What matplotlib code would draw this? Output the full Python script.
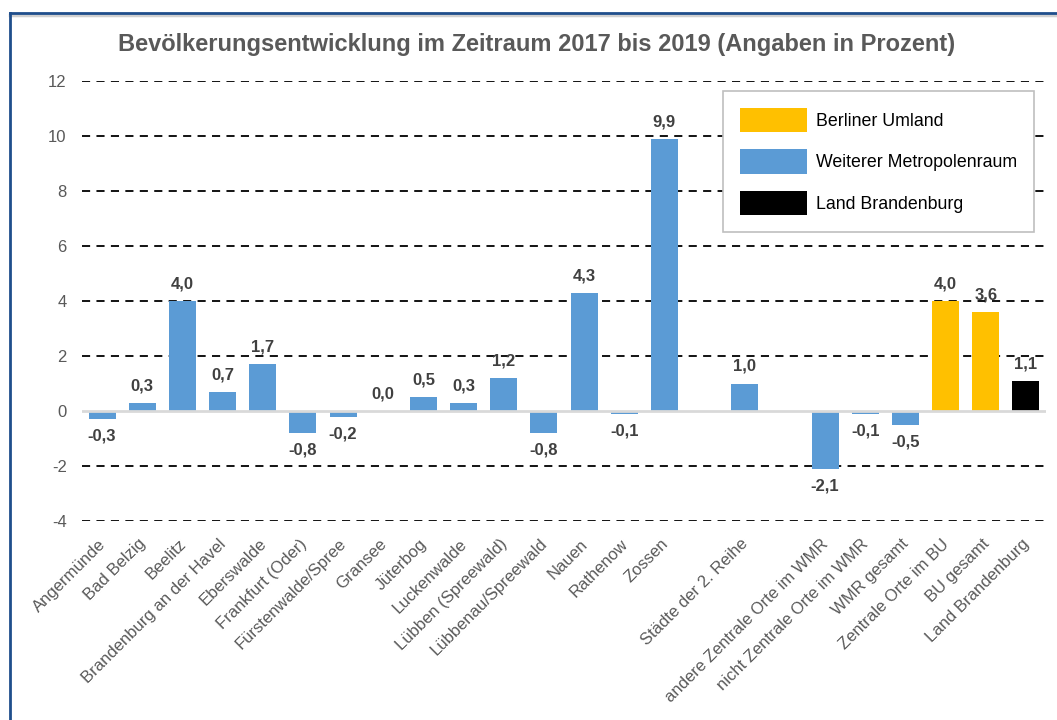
import matplotlib
matplotlib.use("Agg")
import matplotlib.pyplot as plt
from matplotlib.patches import Patch
from matplotlib.lines import Line2D
from matplotlib.transforms import ScaledTranslation

plt.rcParams["font.family"] = ["Liberation Sans", "DejaVu Sans"]

categories = ["Angermünde", "Bad Belzig", "Beelitz", "Brandenburg an der Havel",
              "Eberswalde", "Frankfurt (Oder)", "Fürstenwalde/Spree", "Gransee",
              "Jüterbog", "Luckenwalde", "Lübben (Spreewald)", "Lübbenau/Spreewald",
              "Nauen", "Rathenow", "Zossen", "", "Städte der 2. Reihe", "",
              "andere Zentrale Orte im WMR", "nicht Zentrale Orte im WMR",
              "WMR gesamt", "Zentrale Orte im BU", "BU gesamt", "Land Brandenburg"]
values = [-0.3, 0.3, 4.0, 0.7, 1.7, -0.8, -0.2, 0.0, 0.5, 0.3, 1.2, -0.8,
          4.3, -0.1, 9.9, None, 1.0, None, -2.1, -0.1, -0.5, 4.0, 3.6, 1.1]
groups = ["WMR"] * 15 + [None, "WMR", None, "WMR", "WMR", "WMR", "BU", "BU", "LB"]
legend_labels = ["Berliner Umland", "Weiterer Metropolenraum", "Land Brandenburg"]
title = "Bevölkerungsentwicklung im Zeitraum 2017 bis 2019 (Angaben in Prozent)"
yticks = [-4, -2, 0, 2, 4, 6, 8, 10, 12]

colors = {"BU": "#FFC000", "WMR": "#5B9BD5", "LB": "#000000"}

fig = plt.figure(figsize=(10.57, 7.2), dpi=100)
W, H = 1057, 720
ax = fig.add_axes([82 / W, 1 - 521 / H, (1046 - 82) / W, (521 - 81) / H])

ax.set_xlim(-0.5, len(categories) - 0.5)
ax.set_ylim(-4, 12)

# grid
for t in yticks:
    if t == 0:
        continue
    ax.axhline(t, color="black", lw=1.3, ls=(0, (4.5, 3.5)), zorder=1)

for i, (v, g) in enumerate(zip(values, groups)):
    if v is None:
        continue
    ax.bar(i, v, width=0.67, color=colors[g], zorder=2)
    lab = f"{v:.1f}".replace(".", ",")
    if v >= 0:
        ax.annotate(lab, (i, v), xytext=(0, 7), textcoords="offset points",
                    ha="center", va="bottom", fontsize=12, fontweight="bold", color="#404040", zorder=4)
    else:
        ax.annotate(lab, (i, v), xytext=(0, -7), textcoords="offset points",
                    ha="center", va="top", fontsize=12, fontweight="bold", color="#404040", zorder=4)

ax.axhline(0, color="#D9D9D9", lw=2, zorder=3)

ax.set_yticks(yticks)
ax.set_yticklabels([str(t) for t in yticks], fontsize=12, color="#595959")
ax.set_xticks(range(len(categories)))
ax.set_xticklabels(categories, rotation=45, ha="right", rotation_mode="anchor",
                   fontsize=12, color="#595959")
ax.tick_params(axis="both", length=0)
ax.tick_params(axis="y", pad=11)
ax.tick_params(axis="x", pad=11)
off = ScaledTranslation(-3 / 72, 0, fig.dpi_scale_trans)
for lbl in ax.get_xticklabels():
    lbl.set_transform(lbl.get_transform() + off)
for s in ax.spines.values():
    s.set_visible(False)

handles = [Patch(facecolor=colors["BU"]), Patch(facecolor=colors["WMR"]), Patch(facecolor=colors["LB"])]
leg = ax.legend(handles, legend_labels, loc="upper right", bbox_to_anchor=(1 - 12 / 964, 1 - 10 / 440),
                fontsize=12.8, frameon=True, fancybox=False, edgecolor="#BFBFBF", framealpha=1,
                handlelength=3.8, handleheight=1.75, labelspacing=0.95, borderpad=0.95,
                handletextpad=0.5, borderaxespad=0)
leg.get_frame().set_linewidth(1.2)
leg.set_zorder(5)

fig.text(537 / W, 1 - 45 / H, title, ha="center", va="center", fontsize=17,
         fontweight="bold", color="#595959")

# frame lines
fig.add_artist(Line2D([10 / W, 1.0], [1 - 15 / H, 1 - 15 / H], color="#D0D0D0", lw=2.5))
fig.add_artist(Line2D([10 / W, 1.0], [1 - 13 / H, 1 - 13 / H], color="#1F4E8C", lw=2))
fig.add_artist(Line2D([10 / W, 10 / W], [0, 1 - 13 / H], color="#1F4E8C", lw=2))

fig.savefig("out.png", dpi=100)
